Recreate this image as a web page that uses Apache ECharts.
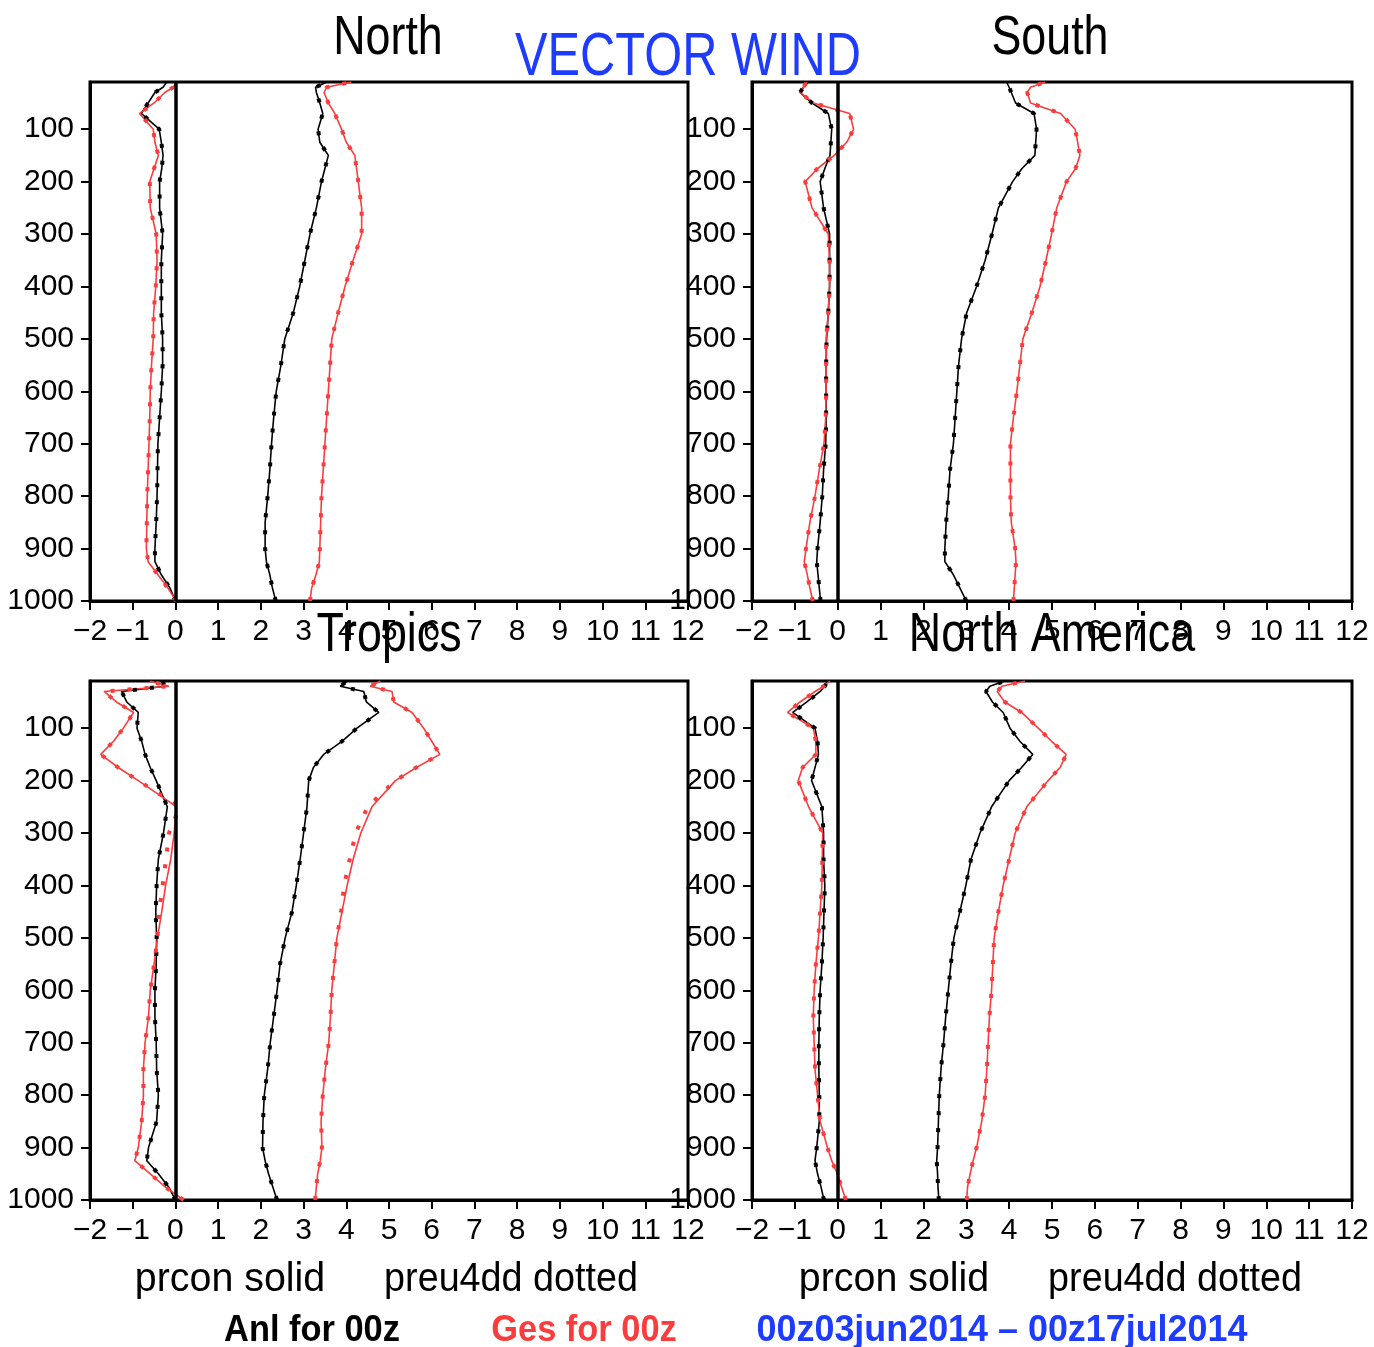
<!DOCTYPE html>
<html><head><meta charset="utf-8">
<script src="https://cdn.jsdelivr.net/npm/echarts@6/dist/echarts.min.js"></script>
<style>html,body{margin:0;padding:0;background:#fff}#c{width:1374px;height:1347px}</style>
</head><body><div id="c"></div>
<script>
// pressure levels (hPa)
const levels = [1000, 975, 950, 925, 900, 850, 800, 750, 700, 650, 600, 550, 500, 450, 400, 350, 300, 250, 200, 175, 150, 125, 100, 70, 50, 30, 20, 10];
const xTickValues = [-2,-1,0,1,2,3,4,5,6,7,8,9,10,11,12];
const yTickValues = [100,200,300,400,500,600,700,800,900,1000];
const panelTitles = ['North','South','Tropics','North America'];

// North
const northAnlMean = [0, -0.13, -0.33, -0.48, -0.48, -0.45, -0.43, -0.42, -0.41, -0.37, -0.33, -0.3, -0.3, -0.33, -0.33, -0.33, -0.3, -0.37, -0.37, -0.32, -0.29, -0.33, -0.38, -0.8, -0.64, -0.48, -0.29, -0.2];
const northGesMean = [0.02, -0.18, -0.41, -0.64, -0.68, -0.67, -0.66, -0.64, -0.62, -0.6, -0.59, -0.56, -0.52, -0.51, -0.46, -0.43, -0.45, -0.59, -0.6, -0.5, -0.4, -0.48, -0.52, -0.84, -0.5, -0.25, -0.05, 0.02];
const northAnlRms = [2.35, 2.27, 2.21, 2.13, 2.1, 2.1, 2.16, 2.21, 2.25, 2.3, 2.36, 2.47, 2.56, 2.76, 2.91, 3.03, 3.15, 3.3, 3.42, 3.5, 3.58, 3.38, 3.34, 3.45, 3.38, 3.3, 3.28, 3.55];
const northGesRms = [3.15, 3.19, 3.29, 3.37, 3.38, 3.4, 3.42, 3.46, 3.5, 3.54, 3.58, 3.62, 3.66, 3.81, 3.97, 4.16, 4.36, 4.36, 4.28, 4.24, 4.2, 4.0, 3.89, 3.73, 3.58, 3.48, 3.54, 4.12];
// South
const southAnlMean = [-0.4, -0.43, -0.46, -0.49, -0.47, -0.41, -0.36, -0.33, -0.28, -0.27, -0.27, -0.27, -0.26, -0.22, -0.19, -0.19, -0.19, -0.33, -0.41, -0.3, -0.18, -0.16, -0.14, -0.22, -0.6, -0.88, -0.8, -0.68];
const southGesMean = [-0.58, -0.65, -0.71, -0.78, -0.74, -0.65, -0.53, -0.43, -0.32, -0.28, -0.27, -0.27, -0.27, -0.22, -0.19, -0.19, -0.22, -0.6, -0.76, -0.47, -0.08, 0.21, 0.37, 0.28, -0.57, -0.88, -0.8, -0.72];
const southAnlRms = [3.0, 2.85, 2.7, 2.5, 2.5, 2.53, 2.58, 2.62, 2.7, 2.74, 2.78, 2.82, 2.89, 3.01, 3.24, 3.44, 3.6, 3.75, 4.08, 4.3, 4.6, 4.62, 4.64, 4.58, 4.15, 4.05, 4.0, 3.94];
const southGesRms = [4.1, 4.12, 4.14, 4.16, 4.14, 4.05, 4.03, 4.03, 4.03, 4.1, 4.18, 4.25, 4.32, 4.53, 4.72, 4.86, 4.99, 5.11, 5.34, 5.55, 5.65, 5.6, 5.54, 5.2, 4.5, 4.42, 4.5, 4.84];
// Tropics
const tropAnlMean = [0, -0.16, -0.4, -0.67, -0.63, -0.44, -0.4, -0.44, -0.45, -0.48, -0.48, -0.45, -0.44, -0.46, -0.44, -0.4, -0.28, -0.19, -0.45, -0.59, -0.71, -0.79, -0.9, -0.87, -1.14, -1.26, -0.25, -0.3];
const tropGesMean = [0.19, -0.24, -0.59, -0.95, -0.87, -0.79, -0.75, -0.75, -0.71, -0.63, -0.59, -0.5, -0.42, -0.32, -0.23, -0.11, -0.03, 0.03, -0.87, -1.34, -1.75, -1.45, -1.22, -0.98, -1.38, -1.67, -0.15, -0.6];
const tropGesMeanDot = [0.19, -0.24, -0.59, -0.95, -0.87, -0.79, -0.75, -0.75, -0.71, -0.63, -0.59, -0.5, -0.42, -0.38, -0.3, -0.22, -0.15, 0.1, -0.87, -1.34, -1.75, -1.45, -1.22, -0.98, -1.38, -1.67, -0.15, -0.6];
const tropAnlRms = [2.38, 2.28, 2.18, 2.1, 2.04, 2.05, 2.08, 2.16, 2.22, 2.3, 2.38, 2.45, 2.57, 2.73, 2.83, 2.92, 3.0, 3.08, 3.12, 3.23, 3.47, 3.9, 4.25, 4.76, 4.47, 4.41, 3.86, 4.02];
const tropGesRms = [3.27, 3.3, 3.33, 3.39, 3.43, 3.41, 3.45, 3.51, 3.59, 3.63, 3.66, 3.72, 3.78, 3.9, 4.02, 4.16, 4.34, 4.6, 5.15, 5.64, 6.19, 6.0, 5.81, 5.54, 5.11, 5.07, 4.56, 4.8];
const tropGesRmsDot = [3.27, 3.3, 3.33, 3.39, 3.43, 3.41, 3.45, 3.51, 3.59, 3.63, 3.66, 3.72, 3.78, 3.88, 3.95, 4.08, 4.22, 4.5, 5.15, 5.64, 6.19, 6.0, 5.81, 5.54, 5.11, 5.07, 4.56, 4.8];
// North America
const naAnlMean = [-0.32, -0.39, -0.47, -0.53, -0.49, -0.43, -0.43, -0.44, -0.44, -0.43, -0.41, -0.37, -0.34, -0.32, -0.3, -0.33, -0.33, -0.37, -0.61, -0.53, -0.45, -0.47, -0.53, -1.05, -0.72, -0.41, -0.3, -0.24];
const naGesMean = [0.19, 0.09, -0.01, -0.14, -0.24, -0.41, -0.47, -0.53, -0.55, -0.57, -0.55, -0.51, -0.45, -0.41, -0.37, -0.36, -0.35, -0.68, -0.92, -0.82, -0.51, -0.51, -0.57, -1.17, -0.88, -0.53, -0.33, -0.18];
const naAnlRms = [2.36, 2.34, 2.33, 2.31, 2.33, 2.35, 2.37, 2.41, 2.47, 2.52, 2.58, 2.64, 2.71, 2.85, 2.99, 3.11, 3.32, 3.59, 4.0, 4.29, 4.55, 4.25, 4.02, 3.86, 3.61, 3.46, 3.55, 3.9];
const naGesRms = [3.01, 3.03, 3.09, 3.16, 3.24, 3.36, 3.44, 3.48, 3.51, 3.54, 3.59, 3.62, 3.65, 3.75, 3.86, 4.0, 4.14, 4.41, 4.91, 5.19, 5.33, 4.99, 4.68, 4.29, 3.9, 3.72, 3.83, 4.37];

const panels = [
  {anl:[northAnlMean,northAnlRms], ges:[northGesMean,northGesRms], anlDot:[northAnlMean,northAnlRms], gesDot:[northGesMean,northGesRms]},
  {anl:[southAnlMean,southAnlRms], ges:[southGesMean,southGesRms], anlDot:[southAnlMean,southAnlRms], gesDot:[southGesMean,southGesRms]},
  {anl:[tropAnlMean,tropAnlRms], ges:[tropGesMean,tropGesRms], anlDot:[tropAnlMean,tropAnlRms], gesDot:[tropGesMeanDot,tropGesRmsDot]},
  {anl:[naAnlMean,naAnlRms], ges:[naGesMean,naGesRms], anlDot:[naAnlMean,naAnlRms], gesDot:[naGesMean,naGesRms]}
];

const FONT = '"Liberation Sans",Arial,sans-serif';
const BLACK = '#000000', RED = '#fa3c3c', BLUE = '#1e3cff';

const grids = [
  {left:90, top:82, width:598, height:519},
  {left:752, top:82, width:600, height:519},
  {left:90, top:681, width:598, height:519},
  {left:752, top:681, width:600, height:519}
].map(g => Object.assign({show:true, borderColor:BLACK, borderWidth:3, backgroundColor:'transparent'}, g));

const xAxes = grids.map((g,i) => ({
  type:'value', gridIndex:i, min:-2, max:12, interval:1,
  axisLine:{show:true, onZero:false, lineStyle:{color:BLACK, width:3}},
  axisTick:{show:true, length:9, lineStyle:{color:BLACK, width:2}},
  axisLabel:{show:true, margin:16, color:BLACK, fontSize:30, fontFamily:FONT,
    formatter: v => (v < 0 ? '\u2212' + (-v) : String(v))},
  splitLine:{show:false}
}));
const yAxes = grids.map((g,i) => ({
  type:'value', gridIndex:i, inverse:true, min:10, max:1000,
  axisLine:{show:true, onZero:false, lineStyle:{color:BLACK, width:3}},
  axisTick:{show:true, length:9, lineStyle:{color:BLACK, width:2}, customValues: yTickValues},
  axisLabel:{show:true, margin:16, color:BLACK, fontSize:30, fontFamily:FONT, customValues: yTickValues,
    formatter: v => String(v)},
  splitLine:{show:false}
}));

const series = [];
function toPts(vals){ return levels.map((p,k) => [vals[k], p]); }
panels.forEach((pn, i) => {
  // zero line
  series.push({type:'line', xAxisIndex:i, yAxisIndex:i, data:[], silent:true,
    markLine:{silent:true, symbol:'none', label:{show:false}, animation:false,
      lineStyle:{color:BLACK, width:3.5, type:'solid'}, data:[{xAxis:0}]}});
  const add = (vals, color, dotted) => series.push({
    type:'line', xAxisIndex:i, yAxisIndex:i, data:toPts(vals), showSymbol:false, silent:true,
    lineStyle: dotted ? {color, width:4, type:[4,13], cap:'butt'} : {color, width:1.6},
    z: dotted ? 3 : 2
  });
  pn.anl.forEach(v => add(v, BLACK, false));
  pn.ges.forEach(v => add(v, RED, false));
  pn.anlDot.forEach(v => add(v, BLACK, true));
  pn.gesDot.forEach(v => add(v, RED, true));
});

function txt(x, y, text, size, color, sx, weight){
  return {type:'text', x, y, z:100, scaleX: sx, scaleY: 1,
    style:{text, fill:color, font:(weight||'normal') + ' ' + size + 'px ' + FONT, textAlign:'center', textVerticalAlign:'middle'}};
}
const graphics = [
  txt(388, 39, panelTitles[0], 56, BLACK, 0.8),
  txt(1050, 39, panelTitles[1], 56, BLACK, 0.8),
  txt(389, 636, panelTitles[2], 56, BLACK, 0.8),
  txt(1052, 636, panelTitles[3], 56, BLACK, 0.8),
  txt(688, 58, 'VECTOR WIND', 61, BLUE, 0.8),
  txt(230, 1280, 'prcon solid', 41, BLACK, 0.96),
  txt(511, 1280, 'preu4dd dotted', 41, BLACK, 0.92),
  txt(894, 1280, 'prcon solid', 41, BLACK, 0.96),
  txt(1175, 1280, 'preu4dd dotted', 41, BLACK, 0.92),
  txt(312, 1331, 'Anl for 00z', 37, BLACK, 0.93, 'bold'),
  txt(584, 1331, 'Ges for 00z', 37, RED, 0.93, 'bold'),
  txt(1002, 1331, '00z03jun2014 \u2013 00z17jul2014', 37, BLUE, 0.97, 'bold')
];

const chart = echarts.init(document.getElementById('c'), null, {renderer:'canvas'});
chart.setOption({
  animation:false, backgroundColor:'#ffffff',
  grid: grids, xAxis: xAxes, yAxis: yAxes, series, graphic: graphics
});
</script></body></html>
